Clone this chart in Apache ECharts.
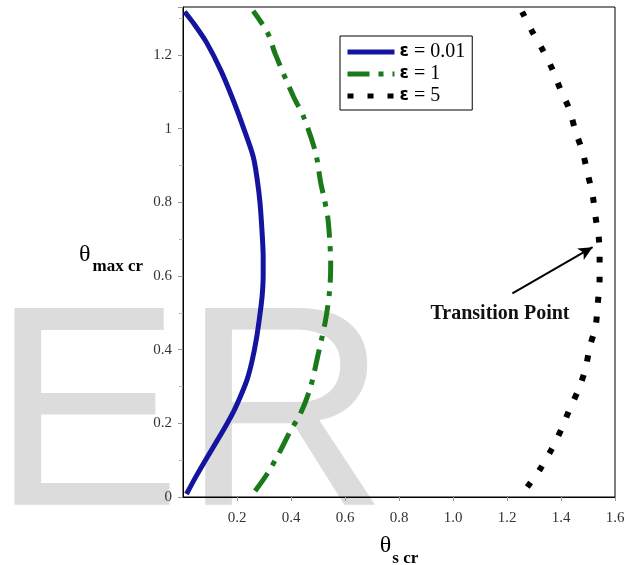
<!DOCTYPE html>
<html>
<head>
<meta charset="utf-8">
<script src="https://cdn.jsdelivr.net/npm/echarts@6/dist/echarts.min.js"></script>
<style>html,body{margin:0;padding:0;background:#fff;}#chart{width:628px;height:565px;}</style>
</head>
<body>
<div id="chart"></div>
<script>
// ---- data ----
const seriesNames = ['ε = 0.01', 'ε = 1', 'ε = 5'];
const eps001 = [[0.013,0.008],[0.05,0.058],[0.088,0.106],[0.128,0.155],[0.163,0.199],[0.19,0.236],[0.211,0.270],[0.237,0.318],[0.256,0.370],[0.272,0.430],[0.284,0.490],[0.293,0.545],[0.297,0.600],[0.297,0.650],[0.293,0.717],[0.285,0.800],[0.275,0.861],[0.26,0.924],[0.225,1.0],[0.185,1.079],[0.14,1.158],[0.087,1.234],[0.045,1.28],[0.006,1.317]];
const eps1 = [[0.267,0.016],[0.312,0.063],[0.360,0.125],[0.398,0.180],[0.435,0.226],[0.472,0.297],[0.498,0.379],[0.528,0.480],[0.543,0.560],[0.547,0.630],[0.544,0.690],[0.536,0.760],[0.523,0.810],[0.510,0.853],[0.491,0.935],[0.446,1.033],[0.409,1.087],[0.342,1.202],[0.312,1.262],[0.260,1.319]];
const eps5 = [[1.275,0.027],[1.323,0.076],[1.364,0.128],[1.401,0.183],[1.431,0.237],[1.465,0.292],[1.491,0.349],[1.506,0.406],[1.528,0.463],[1.536,0.523],[1.543,0.594],[1.543,0.649],[1.540,0.703],[1.528,0.760],[1.517,0.820],[1.498,0.880],[1.480,0.937],[1.454,0.992],[1.431,1.052],[1.398,1.106],[1.368,1.161],[1.331,1.215],[1.293,1.264],[1.256,1.317]];
const arrowTail = [1.22, 0.553];
const arrowHead = [1.517, 0.678];
const annotationPos = [1.174, 0.496];
const annotationText = 'Transition Point';
const xTicks = {min: 0, max: 1.6, interval: 0.2};
const yTicks = {min: 0, max: 1.33, interval: 0.2};
const watermark = 'ER';

const chart = echarts.init(document.getElementById('chart'), null, {renderer: 'canvas'});
const serif = 'Liberation Serif';
const tickLabel = {color: '#333', fontFamily: serif, fontSize: 15};

chart.setOption({
  animation: false,
  backgroundColor: '#fff',
  graphic: [{
    type: 'text', z: -10, silent: true,
    style: {text: watermark, x: -9, y: 569, fill: '#dcdcdc', font: '286px "Liberation Sans"', verticalAlign: 'bottom'}
  }],
  grid: {left: 183, top: 7, right: 13, bottom: 68, show: true, borderColor: '#000', borderWidth: 1,
    backgroundColor: 'transparent', containLabel: false, outerBoundsMode: 'none'},
  legend: {
    left: 340, top: 36, orient: 'vertical', backgroundColor: '#fff',
    borderColor: '#000', borderWidth: 1, padding: [6, 7, 4, 5], itemGap: 2,
    itemWidth: 47, itemHeight: 14,
    itemStyle: {opacity: 0},
    lineStyle: {width: 5},
    data: seriesNames,
    formatter: n => '{e|ε}{t|' + n.slice(1) + '}',
    textStyle: {rich: {
      e: {fontFamily: 'DejaVu Sans', fontWeight: 'bold', fontSize: 17, color: '#000'},
      t: {fontFamily: serif, fontSize: 20, color: '#000'}
    }}
  },
  xAxis: {
    type: 'value', min: xTicks.min, max: xTicks.max, interval: xTicks.interval,
    name: '{t|θ}{s|s cr}', nameLocation: 'middle', nameGap: 37,
    nameTextStyle: {rich: {
      t: {fontFamily: serif, fontSize: 24, color: '#000', verticalAlign: 'top'},
      s: {fontFamily: serif, fontSize: 17, fontWeight: 'bold', color: '#000', padding: [16, 0, 0, 1]}
    }},
    axisLine: {lineStyle: {color: '#000', width: 1}},
    axisTick: {length: 4, lineStyle: {color: '#999'}},
    axisLabel: Object.assign({margin: 14, showMinLabel: false, formatter: v => v.toFixed(1)}, tickLabel),
    splitLine: {show: false}
  },
  yAxis: {
    type: 'value', min: yTicks.min, max: yTicks.max, interval: yTicks.interval,
    name: '{t|θ}{s|max cr}', nameLocation: 'middle', nameRotate: 0, nameGap: 40,
    nameTextStyle: {align: 'right', padding: [14, 0, 0, 0], rich: {
      t: {fontFamily: serif, fontSize: 24, color: '#000', verticalAlign: 'top'},
      s: {fontFamily: serif, fontSize: 17, fontWeight: 'bold', color: '#000', padding: [16, 0, 0, 2]}
    }},
    axisLine: {lineStyle: {color: '#000', width: 1}},
    axisTick: {length: 5, lineStyle: {color: '#999'}},
    minorTick: {show: true, splitNumber: 2, length: 4, lineStyle: {color: '#bbb'}},
    axisLabel: Object.assign({margin: 11, showMaxLabel: false}, tickLabel),
    splitLine: {show: false}
  },
  series: [
    {name: seriesNames[0], type: 'line', data: eps001, symbol: 'none', smooth: 0.3, z: 3,
     lineStyle: {color: '#1414a0', width: 5}, itemStyle: {color: '#1414a0'}},
    {name: seriesNames[1], type: 'line', data: eps1, symbol: 'none', smooth: 0.3, z: 3,
     lineStyle: {color: '#1a7a1a', width: 5, type: [22, 9, 5, 9]}, itemStyle: {color: '#1a7a1a'}},
    {name: seriesNames[2], type: 'line', data: eps5, symbol: 'none', smooth: 0.3, z: 3,
     lineStyle: {color: '#000', width: 6, type: [6, 14], cap: 'butt'}, itemStyle: {color: '#000'},
     markLine: {silent: true, symbol: ['none', 'arrow'], symbolSize: [10, 14], animation: false,
       lineStyle: {color: '#000', width: 2, type: 'solid'}, label: {show: false},
       data: [[{coord: arrowTail}, {coord: arrowHead}]]},
     markPoint: {silent: true, symbol: 'rect', symbolSize: 1, itemStyle: {color: 'rgba(0,0,0,0)'},
       label: {show: true, position: 'inside', formatter: annotationText, color: '#111',
         fontFamily: serif, fontWeight: 'bold', fontSize: 20},
       data: [{coord: annotationPos}]}}
  ]
});
</script>
</body>
</html>
